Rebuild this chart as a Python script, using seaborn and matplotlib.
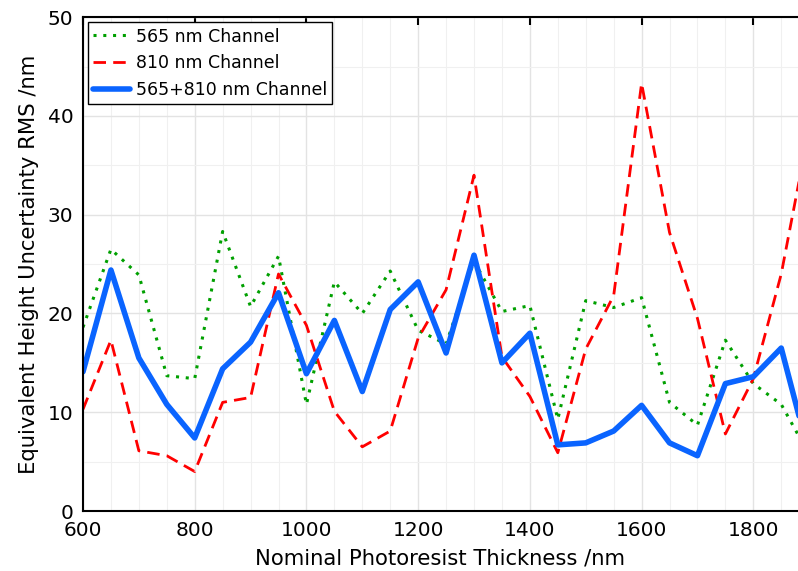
import numpy as np
import pandas as pd
import matplotlib
matplotlib.use("Agg")
import matplotlib.pyplot as plt
import seaborn as sns
from matplotlib.ticker import MultipleLocator

thickness = [600, 650, 700, 750, 800, 850, 900, 950, 1000, 1050, 1100, 1150, 1200, 1250,
             1300, 1350, 1400, 1450, 1500, 1550, 1600, 1650, 1700, 1750, 1800, 1850, 1900]
ch565 = [18.6, 26.5, 23.9, 13.7, 13.4, 28.3, 20.7, 25.8, 10.8, 23.2, 20.0, 24.3, 18.3, 16.9,
         25.3, 20.2, 20.8, 9.3, 21.3, 20.6, 21.6, 11.0, 8.7, 17.3, 12.9, 10.8, 5.7]
ch810 = [10.3, 17.3, 6.1, 5.6, 4.0, 11.0, 11.5, 24.0, 18.8, 10.1, 6.5, 8.1, 17.5, 22.4,
         34.0, 15.6, 11.6, 5.9, 16.4, 21.8, 43.3, 28.2, 19.5, 7.8, 13.4, 24.0, 38.7]
ch_both = [14.1, 24.4, 15.5, 10.8, 7.4, 14.4, 17.1, 22.1, 13.9, 19.3, 12.1, 20.4, 23.2, 16.0,
           25.9, 15.0, 18.0, 6.7, 6.9, 8.1, 10.7, 6.9, 5.6, 12.9, 13.6, 16.5, 5.7]
labels = ["565 nm Channel", "810 nm Channel", "565+810 nm Channel"]

sns.set_style("white")
plt.rcParams['font.family'] = ['DejaVu Sans']
plt.rcParams['text.color'] = 'black'
plt.rcParams['axes.labelcolor'] = 'black'
plt.rcParams['xtick.color'] = 'black'
plt.rcParams['ytick.color'] = 'black'

fig = plt.figure(figsize=(7.98, 5.71), dpi=100)
ax = fig.add_axes([0.104, 0.105, 0.896, 0.865])

df = pd.DataFrame({"x": thickness, "a": ch565, "b": ch810, "c": ch_both})

sns.lineplot(data=df, x="x", y="a", ax=ax, color="#00a000", linewidth=2.2,
             linestyle=(0, (1, 2.2)), label=labels[0])
sns.lineplot(data=df, x="x", y="b", ax=ax, color="#ff0000", linewidth=2.0,
             linestyle=(0, (4.5, 2.6)), label=labels[1])
sns.lineplot(data=df, x="x", y="c", ax=ax, color="#0a64ff", linewidth=4.0,
             linestyle="-", label=labels[2])

ax.set_xlim(600, 1880)
ax.set_ylim(0, 50)
ax.xaxis.set_major_locator(MultipleLocator(200))
ax.xaxis.set_minor_locator(MultipleLocator(50))
ax.yaxis.set_major_locator(MultipleLocator(10))
ax.yaxis.set_minor_locator(MultipleLocator(5))
ax.grid(True, which="major", color="#e3e3e3", linewidth=1.0)
ax.grid(True, which="minor", color="#f0f0f0", linewidth=0.8)
ax.set_axisbelow(True)

ax.tick_params(which="both", top=True, right=False, labelsize=14.5,
               colors="black", labelcolor="black", width=1.5)
ax.tick_params(which="major", direction="in", length=6, pad=7)
ax.tick_params(which="minor", direction="out", length=4)
ax.tick_params(axis="x", which="minor", top=False)
for s in ["left", "bottom", "top"]:
    ax.spines[s].set_visible(True)
    ax.spines[s].set_color("black")
    ax.spines[s].set_linewidth(1.5)
ax.spines["right"].set_visible(False)

ax.set_xlabel("Nominal Photoresist Thickness /nm", fontsize=15.2, labelpad=6, color="black")
ax.set_ylabel("Equivalent Height Uncertainty RMS /nm", fontsize=15.2, labelpad=6, color="black")

leg = ax.legend(loc="upper left", fontsize=12.5, frameon=True, fancybox=False,
                framealpha=1, edgecolor="black", borderaxespad=0.3,
                handlelength=2.1, handletextpad=0.35, borderpad=0.3, labelspacing=0.5)
leg.get_frame().set_linewidth(1.0)
for t in leg.get_texts():
    t.set_color("black")

fig.savefig("out.png", dpi=100)
